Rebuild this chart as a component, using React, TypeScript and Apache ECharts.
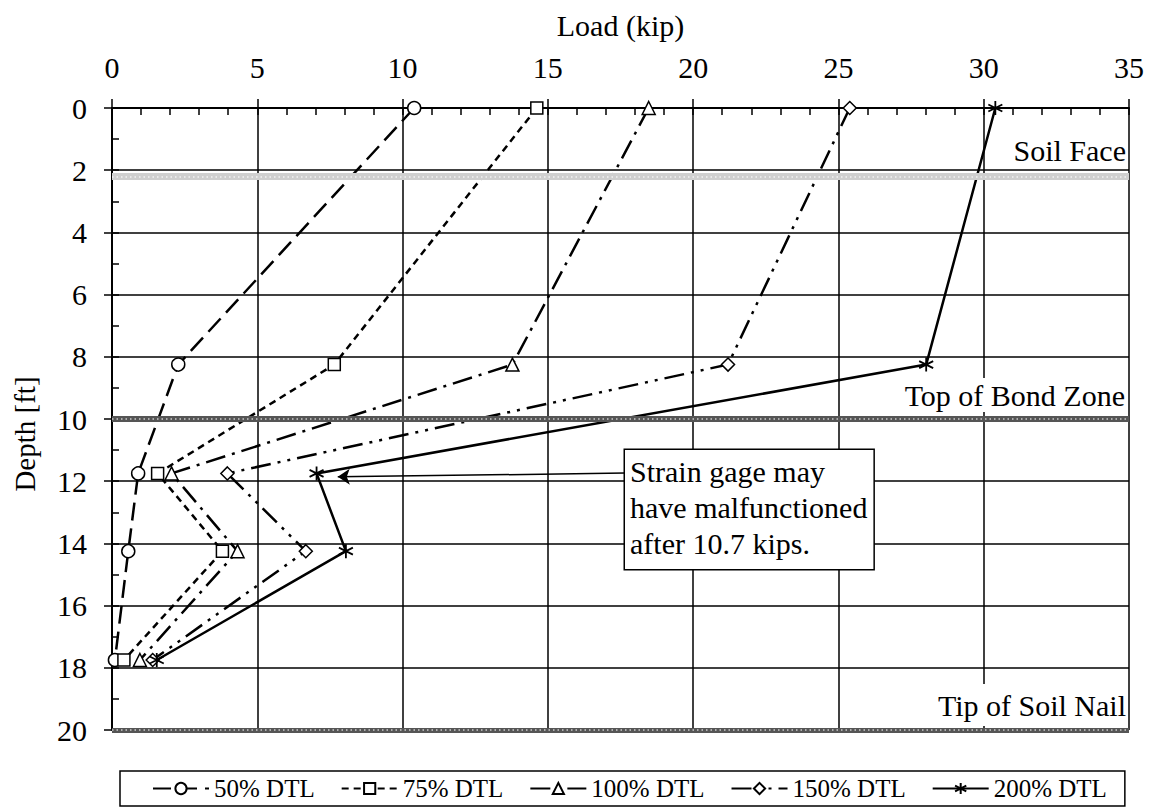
import React, { useEffect, useRef } from "react";
import * as echarts from "echarts";

// ---- Data ----
const depths = [0, 8.25, 11.75, 14.25, 17.75];
const load50 = [10.4, 2.28, 0.9, 0.56, 0.1];
const load75 = [14.62, 7.65, 1.57, 3.8, 0.41];
const load100 = [18.47, 13.78, 2.05, 4.32, 0.96];
const load150 = [25.39, 21.2, 3.97, 6.67, 1.4];
const load200 = [30.4, 28.02, 7.04, 8.05, 1.54];
const seriesNames = ["50% DTL", "75% DTL", "100% DTL", "150% DTL", "200% DTL"];

const soilFaceDepth = 2.2;
const bondZoneDepth = 10;
const tipDepth = 20;
const arrowFrom = [17.65, 11.74];
const arrowTo = [7.77, 11.86];

const FONT = "Liberation Serif";
const ASTERISK = "path://M5,0L5,10M0.7,2.5L9.3,7.5M0.7,7.5L9.3,2.5";

function mk(name: string, loads: number[], symbol: string, dash: any, size: number, extra: any = {}) {
  return {
    name,
    type: "line",
    xAxisIndex: 0,
    yAxisIndex: 0,
    data: loads.map((x, i) => [x, depths[i]]),
    symbol,
    symbolSize: size,
    showSymbol: true,
    z: 3,
    lineStyle: { color: "#000", width: 2.5, type: dash },
    itemStyle: { color: "#fff", borderColor: "#000", borderWidth: 1.5 },
    emphasis: { disabled: true },
    ...extra,
  };
}

export default function App() {
  const ref = useRef<HTMLDivElement>(null);
  useEffect(() => {
    if (!ref.current) return;
    const chart = echarts.init(ref.current, undefined, { renderer: "svg" });
    const bandLine = (y: number, color: string, width: number) => ({
      yAxis: y,
      lineStyle: { color, width, type: "solid" },
    });
    const dotLine = (y: number, color: string) => ({
      yAxis: y,
      lineStyle: { color, width: 1.5, type: [1.5, 3] },
    });
    const txt = (size: number) => ({ fontSize: size, fontFamily: FONT, color: "#000" });
    const option: any = {
      animation: false,
      backgroundColor: "#fff",
      textStyle: { fontFamily: FONT, color: "#000" },
      grid: { left: 112, top: 108, right: 20, bottom: 79, containLabel: false },
      xAxis: [
        {
          type: "value",
          position: "top",
          min: 0,
          max: 35,
          interval: 5,
          name: "Load (kip)",
          nameLocation: "middle",
          nameGap: 68,
          nameTextStyle: txt(30),
          axisLine: { show: true, lineStyle: { color: "#000", width: 2 } },
          axisTick: { show: true, inside: false, length: 9, lineStyle: { color: "#000", width: 1.5 } },
          axisLabel: { ...txt(30), margin: 26 },
          splitLine: { show: true, lineStyle: { color: "#000", width: 1.5 } },
        },
        {
          type: "value",
          position: "top",
          min: 0,
          max: 35,
          interval: 1,
          axisLine: { show: false },
          axisTick: { show: true, inside: true, length: 7, lineStyle: { color: "#000", width: 1.5 } },
          axisLabel: { show: false },
          splitLine: { show: false },
        },
      ],
      yAxis: [
        {
          type: "value",
          inverse: true,
          position: "left",
          min: 0,
          max: 20,
          interval: 2,
          axisLine: { show: true, lineStyle: { color: "#000", width: 2 } },
          axisTick: { show: true, inside: false, length: 8, lineStyle: { color: "#000", width: 1.5 } },
          axisLabel: { ...txt(30), margin: 25 },
          splitLine: { show: true, lineStyle: { color: "#000", width: 1.5 } },
        },
        {
          type: "value",
          inverse: true,
          position: "left",
          min: 0,
          max: 20,
          interval: 1,
          axisLine: { show: false },
          axisTick: { show: true, inside: true, length: 7, lineStyle: { color: "#000", width: 1.5 } },
          axisLabel: { show: false },
          splitLine: { show: false },
        },
      ],
      legend: {
        data: seriesNames,
        left: 120,
        top: 771,
        orient: "horizontal",
        itemWidth: 56,
        itemHeight: 14,
        itemGap: 26,
        padding: [5, 18, 5, 32],
        borderColor: "#000",
        borderWidth: 1.5,
        backgroundColor: "#fff",
        textStyle: txt(25),
      },
      series: [
        {
          name: "bands",
          type: "line",
          xAxisIndex: 0,
          yAxisIndex: 0,
          data: [[0, 25]],
          showSymbol: false,
          z: 1,
          silent: true,
          markLine: {
            silent: true,
            symbol: ["none", "none"],
            label: { show: false },
            animation: false,
            data: [
              bandLine(soilFaceDepth, "#cfcfcf", 7),
              dotLine(soilFaceDepth, "#f4f4f4"),
              bandLine(bondZoneDepth, "#555", 6),
              dotLine(bondZoneDepth, "#cccccc"),
              bandLine(tipDepth, "#555", 5),
              dotLine(tipDepth, "#cccccc"),
            ],
          },
        },
        mk("50% DTL", load50, "circle", [18, 8], 13),
        mk("75% DTL", load75, "rect", [7, 5], 12),
        mk("100% DTL", load100, "triangle", [20, 7, 3, 7], 13),
        mk("150% DTL", load150, "diamond", [20, 7, 3, 7, 3, 7], 13),
        mk("200% DTL", load200, ASTERISK, "solid", 14, {
          itemStyle: { color: "none", borderColor: "#000", borderWidth: 1.8 },
          markLine: {
            silent: true,
            symbol: ["none", "arrow"],
            symbolSize: 12,
            label: { show: false },
            lineStyle: { color: "#000", width: 1.5, type: "solid" },
            data: [[{ coord: arrowFrom }, { coord: arrowTo }]],
          },
        }),
      ],
      graphic: [
        {
          type: "text",
          z: 100,
          x: 25,
          y: 434,
          rotation: Math.PI / 2,
          style: { text: "Depth [ft]", font: "29px Liberation Serif", fill: "#000", align: "center", verticalAlign: "middle" },
        },
        {
          type: "text",
          z: 100,
          x: 1126,
          y: 150,
          style: { text: "Soil Face", font: "30px Liberation Serif", fill: "#000", align: "right", verticalAlign: "middle" },
        },
        {
          type: "text",
          z: 100,
          x: 1126,
          y: 395,
          style: {
            text: "Top of Bond Zone",
            font: "30px Liberation Serif",
            fill: "#000",
            align: "right",
            verticalAlign: "middle",
            backgroundColor: "#fff",
            padding: [2, 1, 2, 4],
          },
        },
        {
          type: "text",
          z: 100,
          x: 1127,
          y: 705,
          style: {
            text: "Tip of Soil Nail",
            font: "30px Liberation Serif",
            fill: "#000",
            align: "right",
            verticalAlign: "middle",
            backgroundColor: "#fff",
            padding: [6, 1, 6, 4],
          },
        },
        {
          type: "text",
          z: 100,
          x: 625,
          y: 450,
          style: {
            text: "Strain gage may\nhave malfunctioned\nafter 10.7 kips.",
            font: "30px Liberation Serif",
            lineHeight: 36,
            fill: "#000",
            align: "left",
            verticalAlign: "top",
            backgroundColor: "#fff",
            borderColor: "#000",
            borderWidth: 1.5,
            padding: [3, 6, 8, 5],
          },
        },
      ],
    };
    chart.setOption(option);
    return () => chart.dispose();
  }, []);
  return (
    <div
      ref={ref}
      style={{ position: "fixed", left: 0, top: 0, width: 1149, height: 809, background: "#fff" }}
    />
  );
}
